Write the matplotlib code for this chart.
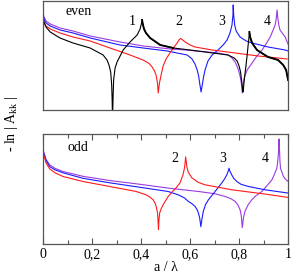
import matplotlib
matplotlib.use("Agg")
from matplotlib import pyplot as plt
from matplotlib.ticker import MultipleLocator, FixedLocator, FixedFormatter

plt.rcParams['font.family'] = ['Liberation Serif', 'DejaVu Serif']
plt.rcParams['mathtext.fontset'] = 'custom'
plt.rcParams['mathtext.rm'] = 'Liberation Serif'

# even modes (top panel), -ln|A_kk| in arbitrary units
even_k1_x = [0, .004, .012, .029, .049, .069, .122, .192, .245, .261, .269, .276, .280, .282, .283,
             .284, .286, .288, .294, .302, .327, .355, .384, .396, .401, .404, .407, .412, .420, .437,
             .478, .531, .600, .661, .755, .780, .792, .800, .806, .810, .814, .816, .818, .822, .827,
             .833, .837, .840, .842, .845, .853, .873, .918, .959, .980, .992, .996, 1.0]
even_k1_y = [9.2, 8.8, 8.3, 7.8, 7.5, 7.2, 6.7, 6.2, 5.5, 5.0, 4.5, 3.8, 2.5, 1.0, -0.5,
             -0.5, 1.5, 3.0, 4.2, 4.8, 6.0, 6.8, 7.5, 8.1, 8.6, 9.0, 8.6, 8.1, 7.7, 7.2,
             6.5, 6.2, 6.0, 5.8, 5.5, 5.2, 4.9, 4.4, 3.8, 3.0, 2.2, 1.8, 2.2, 3.2, 4.2,
             5.5, 6.5, 7.2, 7.8, 7.3, 6.7, 6.0, 5.3, 5.0, 4.5, 4.0, 3.5, 3.0]

even_k2_x = [0, .004, .012, .029, .069, .122, .192, .273, .355, .408, .433, .445, .455, .461, .467,
             .470, .475, .480, .490, .502, .518, .535, .547, .555, .561, .567, .580, .600, .620, .690,
             .784, .878, .996]
even_k2_y = [9.0, 8.7, 8.4, 8.1, 7.7, 7.3, 6.9, 6.2, 5.5, 5.0, 4.65, 4.3, 3.9, 3.5, 2.7,
             1.7, 2.7, 3.3, 4.4, 5.1, 5.7, 6.3, 6.7, 7.0, 7.15, 7.05, 6.8, 6.5, 6.3, 6.0,
             5.7, 5.4, 5.1]

even_k3_x = [0, .004, .012, .029, .069, .122, .192, .314, .408, .506, .588, .608, .620, .629, .635,
             .639, .645, .651, .655, .661, .673, .690, .714, .735, .751, .763, .771, .775, .776, .778,
             .782, .788, .804, .829, .853, .918, .988, 1.0]
even_k3_y = [9.5, 9.1, 8.7, 8.4, 8.0, 7.7, 7.2, 6.5, 6.2, 5.9, 5.5, 5.1, 4.6, 4.0, 3.4,
             2.7, 1.8, 2.7, 3.3, 4.0, 4.9, 5.5, 6.0, 6.5, 7.0, 7.7, 8.5, 9.5, 10.5, 9.5,
             8.5, 7.9, 7.3, 6.9, 6.7, 6.3, 6.0, 5.9]

even_k4_x = [0, .004, .012, .029, .069, .122, .192, .314, .408, .518, .580, .714, .755, .771, .784,
             .796, .804, .809, .813, .817, .822, .833, .853, .873, .894, .910, .927, .939, .947, .952,
             .955, .958, .962, .967, .988, .996, 1.0]
even_k4_y = [9.7, 9.3, 8.9, 8.6, 8.2, 7.9, 7.4, 6.8, 6.4, 6.1, 6.0, 5.7, 5.5, 5.2, 4.8,
             4.1, 3.4, 2.7, 1.7, 2.7, 3.3, 4.0, 4.7, 5.4, 6.0, 6.6, 7.3, 8.0, 8.5, 9.2,
             10.0, 9.2, 8.5, 8.0, 7.3, 6.8, 6.6]

# odd modes (bottom panel)
odd_k2_x = [0, .007, .012, .027, .049, .082, .163, .272, .380, .420, .437, .449, .457, .462, .467,
            .469, .471, .473, .476, .482, .490, .510, .527, .543, .559, .571, .578, .582, .587, .592,
            .607, .633, .661, .770, .906, 1.0]
odd_k2_y = [9.0, 8.57, 8.1, 7.5, 7.1, 6.73, 6.23, 5.73, 5.23, 4.9, 4.65, 4.4, 4.05, 3.7, 3.1,
            2.4, 1.4, 2.4, 3.1, 3.5, 3.9, 4.7, 5.2, 5.6, 6.1, 6.9, 7.7, 8.7, 7.7, 7.2,
            6.6, 6.15, 5.9, 5.4, 4.97, 4.63]

odd_k3_x = [0, .007, .012, .027, .049, .082, .163, .272, .396, .510, .551, .576, .593, .608, .620,
            .629, .634, .639, .644, .648, .654, .663, .675, .702, .729, .741, .750, .756, .759, .762,
            .770, .778, .791, .808, .838, .906, 1.0]
odd_k3_y = [9.2, 8.73, 8.35, 7.73, 7.4, 7.1, 6.55, 6.1, 5.65, 5.23, 4.9, 4.6, 4.23, 4.0, 3.73,
            3.4, 3.07, 2.6, 1.7, 2.4, 3.23, 3.9, 4.4, 5.23, 6.07, 6.5, 6.9, 7.3, 7.57, 7.3,
            6.9, 6.55, 6.23, 5.95, 5.73, 5.4, 5.07]

odd_k4_x = [0, .007, .012, .027, .049, .082, .163, .272, .396, .510, .634, .702, .743, .767, .784,
            .796, .804, .809, .813, .818, .824, .837, .852, .869, .893, .910, .934, .945, .954, .958,
            .960, .962, .963, .965, .967, .969, .981, .990, 1.0]
odd_k4_y = [9.4, 8.9, 8.45, 7.9, 7.55, 7.23, 6.75, 6.33, 5.95, 5.57, 5.23, 5.0, 4.73, 4.5, 4.23,
            3.85, 3.4, 2.8, 1.6, 2.6, 3.23, 3.9, 4.4, 4.8, 5.23, 5.7, 6.4, 7.0, 7.57, 8.3,
            8.9, 9.6, 10.5, 9.4, 8.2, 7.57, 6.73, 6.45, 6.23]

tick_pos = [0, 0.2, 0.4, 0.6, 0.8, 1.0]
tick_lab = ['0', '0,2', '0,4', '0,6', '0,8', '1']

RED = '#ff1a1a'
BLUE = '#1a1aff'
PURPLE = '#9a3ae0'
FRAME = '#555555'
fs = 10

fig = plt.figure(figsize=(2.91, 2.74), dpi=100)
ax1 = fig.add_axes([0.148, 0.5985, 0.842, 0.398])
ax2 = fig.add_axes([0.148, 0.111, 0.842, 0.400])

lw = 0.8
ax1.plot(even_k4_x, even_k4_y, color=PURPLE, lw=lw)
ax1.plot(even_k3_x, even_k3_y, color=BLUE, lw=lw)
ax1.plot(even_k2_x, even_k2_y, color=RED, lw=lw)
ax1.plot(even_k1_x, even_k1_y, color='black', lw=lw)
# the black curve looks smeared (thick) after its peaks
ax1.plot(even_k1_x[25:32], even_k1_y[25:32], color='black', lw=1.35)
ax1.plot(even_k1_x[48:], even_k1_y[48:], color='black', lw=1.35)

ax2.plot(odd_k4_x, odd_k4_y, color=PURPLE, lw=lw)
ax2.plot(odd_k3_x, odd_k3_y, color=BLUE, lw=lw)
ax2.plot(odd_k2_x, odd_k2_y, color=RED, lw=lw)

ax1.set_xlim(0, 1)
ax1.set_ylim(0, 10.9)
ax2.set_xlim(0, 1)
ax2.set_ylim(0, 11.0)

for ax in (ax1, ax2):
    for s in ax.spines.values():
        s.set_color(FRAME)
        s.set_linewidth(0.9)
    ax.set_yticks([])

ax1.set_xticks([])

ax2.xaxis.set_major_locator(FixedLocator(tick_pos))
ax2.xaxis.set_major_formatter(FixedFormatter(tick_lab))
ax2.xaxis.set_minor_locator(MultipleLocator(0.1))
ax2.tick_params(axis='x', which='both', direction='in', top=True, bottom=True,
                color=FRAME, width=0.8, labelsize=fs, pad=3)
ax2.tick_params(axis='x', which='major', length=4.5)
ax2.tick_params(axis='x', which='minor', length=2.8)
ax2.set_xlabel('a / λ', fontsize=fs, labelpad=0)

ax1.text(0.147, 9.8, 'even', fontsize=fs, ha='center', va='center')
for lab, xx in zip(['1', '2', '3', '4'], [0.363, 0.555, 0.731, 0.914]):
    ax1.text(xx, 8.8, lab, fontsize=fs, ha='center', va='center')

ax2.text(0.143, 9.6, 'odd', fontsize=fs, ha='center', va='center')
for lab, xx in zip(['2', '3', '4'], [0.539, 0.732, 0.906]):
    ax2.text(xx, 8.5, lab, fontsize=fs, ha='center', va='center')

fig.text(12 / 291, 1 - 124 / 274, r'- ln | A$_{\mathrm{kk}}$ |', fontsize=fs,
         rotation=90, ha='center', va='center')

fig.savefig('out.png', dpi=100)
